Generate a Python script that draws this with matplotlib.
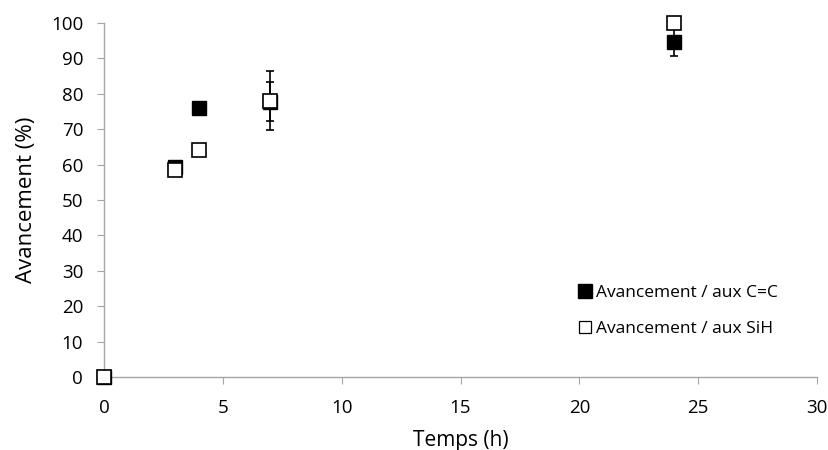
import matplotlib.pyplot as plt
from matplotlib.lines import Line2D

# Temps (h) et avancement (%)
temps_cc = [0, 3, 4, 7, 24]
avanc_cc = [0, 59.3, 76.1, 77.8, 94.5]
err_cc = [0, 0, 0, 5.6, 3.8]

temps_sih = [0, 3, 4, 7, 24]
avanc_sih = [0, 58.5, 64.0, 78.0, 100.0]
err_sih = [0, 0, 0, 8.3, 0]

x_ticks = [0, 5, 10, 15, 20, 25, 30]
y_ticks = [0, 10, 20, 30, 40, 50, 60, 70, 80, 90, 100]

plt.rcParams['font.family'] = ['Open Sans', 'DejaVu Sans']
fig = plt.figure(figsize=(8.29, 4.5), dpi=100)
ax = fig.add_axes([0.1255, 0.162, 0.86, 0.787])

ax.errorbar(temps_cc, avanc_cc, yerr=err_cc, fmt='s', color='black', mfc='black',
            mec='black', ms=10, ecolor='black', elinewidth=1.2, capsize=3, capthick=1.2,
            zorder=3, clip_on=False)
ax.errorbar(temps_sih, avanc_sih, yerr=err_sih, fmt='s', color='black', mfc='white',
            mec='black', mew=1.2, ms=10, ecolor='black', elinewidth=1.2, capsize=3,
            capthick=1.2, zorder=4, clip_on=False)

ax.set_xlim(0, 30)
ax.set_ylim(0, 100)
ax.set_xticks(x_ticks)
ax.set_yticks(y_ticks)
ax.set_xlabel('Temps (h)', fontsize=15, labelpad=9)
ax.set_ylabel('Avancement (%)', fontsize=16, labelpad=10)
ax.tick_params(labelsize=13.5, color='#a6a6a6', length=5)
ax.tick_params(axis='y', pad=10)
ax.tick_params(axis='x', pad=11)

for side in ['top', 'right']:
    ax.spines[side].set_visible(False)
for side in ['left', 'bottom']:
    ax.spines[side].set_color('#a6a6a6')
    ax.spines[side].set_linewidth(1)

handles = [
    Line2D([], [], ls='none', marker='s', mfc='black', mec='black', ms=9.5),
    Line2D([], [], ls='none', marker='s', mfc='white', mec='black', mew=0.9, ms=8),
]
labels = ['Avancement / aux C=C', 'Avancement / aux SiH']
ax.legend(handles, labels, loc='lower right', bbox_to_anchor=(0.967, 0.07), frameon=False,
          fontsize=12.5, handlelength=0.6, handletextpad=0.35, labelspacing=1.1)

fig.savefig('out.png', dpi=100)
